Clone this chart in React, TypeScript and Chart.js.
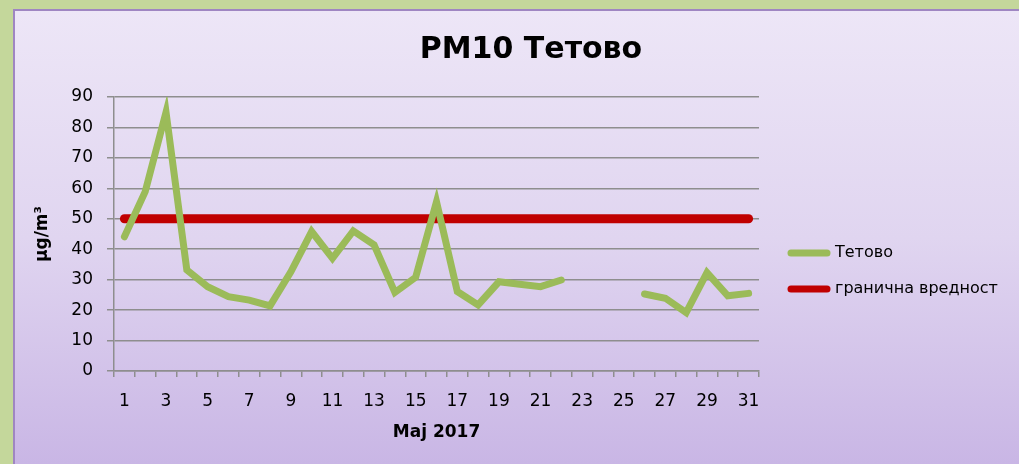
import React, { useEffect, useRef } from "react";
import { Chart, registerables } from "chart.js";

Chart.register(...registerables);

const TITLE = "PM10 Тетово";
const X_TITLE = "Maj 2017";
const Y_TITLE = "μg/m³";

const days = [
  "1", "2", "3", "4", "5", "6", "7", "8", "9", "10",
  "11", "12", "13", "14", "15", "16", "17", "18", "19", "20",
  "21", "22", "23", "24", "25", "26", "27", "28", "29", "30", "31",
];

const tetovo: (number | null)[] = [
  44.1, 58.9, 85, 33.2, 27.7, 24.4, 23.3, 21.4, 32.6, 45.8,
  37, 46, 41.4, 25.8, 30.8, 55.6, 26.1, 21.7, 29.3, 28.5,
  27.7, 29.9, null, null, null, 25.3, 23.9, 19.2, 32.3, 24.7, 25.5,
];

const limitValues = [
  50, 50, 50, 50, 50, 50, 50, 50, 50, 50,
  50, 50, 50, 50, 50, 50, 50, 50, 50, 50,
  50, 50, 50, 50, 50, 50, 50, 50, 50, 50, 50,
];

const yTicks = { min: 0, max: 90, step: 10 };

const FONT = "'Comic Sans MS', 'DejaVu Sans', sans-serif";
const GRID = "#8e8e8e";

const sideLegend = {
  id: "sideLegend",
  afterDraw(chart: any) {
    const ctx = chart.ctx;
    const x0 = chart.chartArea.right + 32;
    const yStart = 253;
    const gap = 36;
    ctx.save();
    ctx.font = `16px ${FONT}`;
    ctx.textBaseline = "middle";
    ctx.textAlign = "left";
    chart.data.datasets.forEach((ds: any, i: number) => {
      const y = yStart + i * gap;
      ctx.strokeStyle = ds.borderColor;
      ctx.lineWidth = 7;
      ctx.lineCap = "round";
      ctx.beginPath();
      ctx.moveTo(x0, y);
      ctx.lineTo(x0 + 36, y);
      ctx.stroke();
      ctx.fillStyle = "#000";
      ctx.fillText(ds.label, x0 + 44, y);
    });
    ctx.restore();
  },
};

export default function App() {
  const ref = useRef<HTMLCanvasElement | null>(null);

  useEffect(() => {
    if (!ref.current) return;
    const chart = new Chart(ref.current, {
      type: "line",
      data: {
        labels: days,
        datasets: [
          {
            label: "Тетово",
            data: tetovo,
            borderColor: "#9bbb59",
            backgroundColor: "#9bbb59",
            borderWidth: 7,
            borderCapStyle: "round",
            borderJoinStyle: "miter",
            pointRadius: 0,
            pointHoverRadius: 0,
            spanGaps: false,
            tension: 0,
          },
          {
            label: "гранична вредност",
            data: limitValues,
            borderColor: "#c00000",
            backgroundColor: "#c00000",
            borderWidth: 9,
            borderCapStyle: "round",
            pointRadius: 0,
            pointHoverRadius: 0,
            tension: 0,
          },
        ],
      },
      options: {
        animation: false,
        responsive: false,
        maintainAspectRatio: false,
        layout: { padding: { left: 14, right: -29, top: 10, bottom: 0 } },
        plugins: {
          legend: { display: false },
          tooltip: { enabled: false },
          title: {
            display: true,
            text: TITLE,
            color: "#000",
            font: { family: FONT, size: 30, weight: "bold", lineHeight: 1.2 },
            padding: { top: 22, bottom: 29 },
          },
        },
        scales: {
          x: {
            type: "category",
            offset: true,
            grid: {
              offset: true,
              drawOnChartArea: false,
              drawTicks: true,
              tickLength: 6,
              color: GRID,
              lineWidth: 1.5,
            },
            border: { display: true, color: GRID, width: 1.5 },
            ticks: {
              autoSkip: false,
              maxRotation: 0,
              minRotation: 0,
              padding: 14,
              color: "#000",
              font: { family: FONT, size: 17 },
              callback: (_v: any, i: number) => (i % 2 === 0 ? days[i] : ""),
            },
            title: {
              display: true,
              text: X_TITLE,
              color: "#000",
              font: { family: FONT, size: 17, weight: "bold", lineHeight: 1.2 },
              padding: { top: 0, bottom: 21 },
            },
            afterFit: (scale: any) => {
              scale.height = 93;
            },
          },
          y: {
            min: yTicks.min,
            max: yTicks.max,
            grid: {
              drawOnChartArea: true,
              drawTicks: true,
              tickLength: 7,
              color: GRID,
              lineWidth: 1.5,
            },
            border: { display: true, color: GRID, width: 1.5 },
            ticks: {
              stepSize: yTicks.step,
              padding: 14,
              color: "#000",
              font: { family: FONT, size: 17 },
            },
            title: {
              display: true,
              text: Y_TITLE,
              color: "#000",
              font: { family: FONT, size: 17, weight: "bold", lineHeight: 1.2 },
              padding: { top: 18, bottom: 0 },
            },
            afterFit: (scale: any) => {
              scale.width = 100;
            },
          },
          spacer: {
            type: "linear",
            position: "right",
            display: true,
            grid: { display: false, drawTicks: false },
            border: { display: false },
            ticks: { display: false },
            afterFit: (scale: any) => {
              scale.width = 289;
            },
          },
        },
      },
      plugins: [sideLegend],
    } as any);
    return () => chart.destroy();
  }, []);

  return (
    <div
      style={{
        position: "fixed",
        left: 0,
        top: 0,
        width: 1019,
        height: 464,
        background: "#c4d79b",
        overflow: "hidden",
      }}
    >
      <div
        style={{
          position: "absolute",
          left: 13,
          top: 9,
          right: 0,
          bottom: 0,
          borderTop: "2px solid #9f86c2",
          borderLeft: "2px solid #9f86c2",
          background: "linear-gradient(to bottom, #ede6f7 0%, #e0d5f0 50%, #c9b6e5 100%)",
        }}
      />
      <canvas
        ref={ref}
        width={1019}
        height={464}
        style={{ position: "absolute", left: 0, top: 0, width: 1019, height: 464 }}
      />
    </div>
  );
}
